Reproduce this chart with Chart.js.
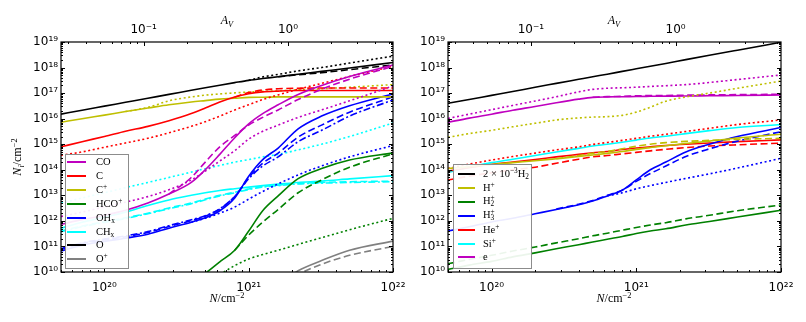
<!DOCTYPE html>
<html>
<head>
<meta charset="utf-8">
<script src="https://cdn.jsdelivr.net/npm/chart.js@4.4.1/dist/chart.umd.min.js"></script>
<style>
  html, body { margin: 0; padding: 0; background: #fff; }
  #fig { position: relative; width: 806px; height: 322px; overflow: hidden; }
  #fig canvas { position: absolute; left: 0; top: 0; }
  .lbl { position: absolute; font-family: "Liberation Serif", "DejaVu Serif", serif; font-size: 12px; line-height: 1; white-space: nowrap; transform: translate(-50%, -50%); color: #000; }
  .lbl sup { font-size: 0.7em; vertical-align: 0.5em; line-height: 0; }
  .lbl sub { font-size: 0.7em; vertical-align: -0.3em; line-height: 0; }
  .leg { position: absolute; background: rgba(255,255,255,0.92); border: 1px solid #8c8c8c; box-sizing: border-box; }
  .ln { position: absolute; height: 0; border-top: 2px solid; }
  .tx { position: absolute; font-family: "Liberation Serif", "DejaVu Serif", serif; font-size: 10.5px; line-height: 1; transform: translateY(-50%); white-space: nowrap; }
  .tx sup { font-size: 0.7em; vertical-align: 0.5em; line-height: 0; }
  .tx sub { font-size: 0.7em; vertical-align: -0.3em; line-height: 0; }
  .st { display: inline-block; font-size: 0.7em; line-height: 0.9; vertical-align: -0.45em; }
  .st span { display: block; }
</style>
</head>
<body>
<div id="fig">
  <canvas id="leftChart" width="806" height="322"></canvas>
  <canvas id="rightChart" width="806" height="322"></canvas>
</div>
<script>
// column density grid (cm^-2)
const N = [5e19, 7e19, 1e20, 1.4e20, 2e20, 2.8e20, 4e20, 5e20, 6.3e20, 8e20, 1e21, 1.25e21, 1.6e21, 2.2e21, 3.2e21, 5e21, 1e22];

const xTicks = [1e20, 1e21, 1e22];
const yTicks = [1e10, 1e11, 1e12, 1e13, 1e14, 1e15, 1e16, 1e17, 1e18, 1e19];
const avTicks = [0.1, 1];
const N_PER_AV = 1.87e21;

// ---------- left panel ----------
const coSolid  = [7.4e11, 1.12e12, 1.66e12, 2.6e12, 5.0e12, 1.12e13, 3.2e13, 1.0e14, 4.0e14, 1.8e15, 6.3e15, 1.58e16, 3.5e16, 8.9e16, 2.0e17, 4.5e17, 1.26e18];
const coDash   = [null, null, null, null, null, 1.12e13, 5.0e13, 2.0e14, 7.9e14, 2.2e15, 5.6e15, 1.12e16, 2.2e16, 5.6e16, 1.41e17, 3.5e17, 1.12e18];
const coDot    = [1.48e12, 2.2e12, 3.5e12, 5.4e12, 8.9e12, 1.66e13, 4.0e13, 8.9e13, 2.2e14, 5.6e14, 1.58e15, 3.2e15, 5.6e15, 1.12e16, 2.2e16, 5.0e16, 1.9e17];

const cSolid   = [7.9e14, 1.26e15, 2.0e15, 3.2e15, 5.0e15, 8.3e15, 1.58e16, 2.6e16, 4.5e16, 7.1e16, 9.5e16, 1.12e17, 1.2e17, 1.26e17, 1.26e17, 1.26e17, 1.26e17];
const cDash    = [null, null, null, null, null, null, null, null, null, 7.1e16, 1.05e17, 1.32e17, 1.48e17, 1.55e17, 1.58e17, 1.58e17, 1.58e17];
const cDot     = [3.7e14, 5.0e14, 7.6e14, 1.12e15, 1.7e15, 2.8e15, 5.0e15, 7.6e15, 1.26e16, 2.2e16, 3.5e16, 5.6e16, 8.5e16, 1.41e17, 2.4e17, 4.5e17, 1.12e18];

const cpSolid  = [7.2e15, 1.0e16, 1.38e16, 1.9e16, 2.6e16, 3.5e16, 4.5e16, 5.1e16, 5.8e16, 6.3e16, 6.8e16, 6.9e16, 7.1e16, 7.1e16, 7.1e16, 7.1e16, 7.1e16];
const cpDot    = [null, null, null, 1.9e16, 2.75e16, 5.0e16, 7.1e16, 8.3e16, 9.3e16, 1.02e17, 1.1e17, 1.17e17, 1.23e17, 1.35e17, 1.48e17, 1.7e17, 2.15e17];

const hcoSolid = [null, null, null, null, null, null, 4.0e9, 8.9e9, 2.5e10, 7.1e10, 4.0e11, 2.5e12, 9.5e12, 4.5e13, 1.12e14, 2.4e14, 4.6e14];
const hcoDash  = [null, null, null, null, null, null, null, null, null, 7.1e10, 2.8e11, 8.9e11, 2.8e12, 1.26e13, 4.0e13, 1.26e14, 4.2e14];
const hcoDot   = [null, null, null, null, null, null, null, null, 7.9e9, 1.78e10, 3.2e10, 4.8e10, 7.1e10, 1.2e11, 2.2e11, 4.5e11, 1.26e12];

const ohSolid  = [6.6e10, 1.12e11, 1.58e11, 2.1e11, 3.0e11, 5.2e11, 8.9e11, 1.32e12, 2.5e12, 7.9e12, 5.6e13, 2.5e14, 7.1e14, 4.0e15, 1.26e16, 3.2e16, 9.3e16];
const ohDash   = [7.6e10, 1.29e11, 1.82e11, 2.4e11, 3.5e11, 6.0e11, 1.02e12, 1.52e12, 2.9e12, 8.9e12, 5.0e13, 1.8e14, 4.5e14, 1.9e15, 5.6e15, 1.8e16, 7.1e16];
const ohDashDot= [8.1e10, 1.38e11, 1.95e11, 2.6e11, 3.8e11, 6.5e11, 1.1e12, 1.6e12, 3.0e12, 9.0e12, 4.5e13, 1.4e14, 3.2e14, 1.26e15, 3.5e15, 1.26e16, 5.4e16];
const ohDot    = [null, null, null, null, null, null, 8.9e11, 1.26e12, 2.0e12, 3.5e12, 7.1e12, 1.41e13, 2.8e13, 6.3e13, 1.41e14, 3.2e14, 8.9e14];

const chSolid  = [5.2e11, 8.9e11, 1.4e12, 2.2e12, 4.0e12, 6.6e12, 1.0e13, 1.26e13, 1.55e13, 1.82e13, 2.1e13, 2.4e13, 2.75e13, 3.2e13, 3.6e13, 4.4e13, 5.9e13];
const chDash   = [4.0e11, 6.3e11, 9.3e11, 1.32e12, 2.0e12, 3.2e12, 5.0e12, 7.1e12, 1.0e13, 1.32e13, 1.78e13, 2.2e13, 2.5e13, 2.9e13, 3.2e13, 3.4e13, 3.6e13];
const chDashDot= [3.8e11, 5.9e11, 8.7e11, 1.24e12, 1.9e12, 3.0e12, 4.7e12, 6.7e12, 9.5e12, 1.26e13, 1.7e13, 2.1e13, 2.4e13, 2.8e13, 3.0e13, 3.2e13, 3.4e13];
const chDot    = [4.9e12, 7.9e12, 1.26e13, 2.0e13, 3.2e13, 5.0e13, 8.1e13, 1.1e14, 1.48e14, 2.0e14, 2.5e14, 3.2e14, 4.0e14, 6.0e14, 1.0e15, 2.0e15, 6.8e15];

const oSolid   = [1.51e16, 2.14e16, 3.09e16, 4.37e16, 6.31e16, 8.91e16, 1.29e17, 1.62e17, 2.04e17, 2.57e17, 3.16e17, 3.72e17, 4.37e17, 5.5e17, 7.08e17, 9.55e17, 1.58e18];
const oDash    = [null, null, null, null, null, null, null, null, null, null, null, null, 4.37e17, 5.2e17, 6.3e17, 8.3e17, 1.26e18];
const oDot     = [null, null, null, null, null, null, null, null, null, null, 3.16e17, 4.3e17, 5.4e17, 7.4e17, 1.0e18, 1.5e18, 2.8e18];

const opSolid  = [null, null, null, null, null, null, null, null, null, null, null, null, 3.2e9, 1.12e10, 2.8e10, 7.1e10, 1.62e11];
const opDash   = [null, null, null, null, null, null, null, null, null, null, null, null, 2.2e9, 7.9e9, 2.0e10, 4.5e10, 1.0e11];

// ---------- right panel ----------
const h2Solid  = [3.98e16, 5.62e16, 8.13e16, 1.15e17, 1.70e17, 2.40e17, 3.47e17, 4.37e17, 5.50e17, 7.08e17, 8.91e17, 1.12e18, 1.45e18, 2.04e18, 3.02e18, 4.79e18, 9.77e18];

const hpSolid  = [1.12e14, 1.32e14, 1.6e14, 1.9e14, 2.25e14, 2.7e14, 3.3e14, 3.8e14, 4.4e14, 5.2e14, 6.3e14, 7.4e14, 8.7e14, 1.07e15, 1.32e15, 1.74e15, 2.45e15];
const hpDash   = [null, null, null, null, null, 2.7e14, 3.6e14, 4.4e14, 5.2e14, 6.6e14, 8.3e14, 1.0e15, 1.15e15, 1.29e15, 1.41e15, 1.55e15, 1.7e15];
const hpDot    = [1.86e15, 2.6e15, 3.5e15, 4.8e15, 6.6e15, 8.9e15, 1.07e16, 1.15e16, 1.2e16, 1.35e16, 1.8e16, 2.8e16, 4.8e16, 7.1e16, 1.0e17, 1.55e17, 2.95e17];

const h2pSolid = [1.26e10, 1.86e10, 2.6e10, 3.9e10, 5.6e10, 8.1e10, 1.17e11, 1.5e11, 1.9e11, 2.45e11, 3.2e11, 4.0e11, 4.9e11, 6.9e11, 9.5e11, 1.41e12, 2.6e12];
const h2pDash  = [2.1e10, 3.1e10, 4.5e10, 6.6e10, 9.5e10, 1.38e11, 2.0e11, 2.6e11, 3.3e11, 4.3e11, 5.5e11, 6.9e11, 8.5e11, 1.2e12, 1.66e12, 2.5e12, 4.2e12];

const h3pSolid = [4.0e11, 5.9e11, 9.1e11, 1.26e12, 1.9e12, 2.8e12, 4.3e12, 6.0e12, 9.5e12, 1.58e13, 4.0e13, 1.0e14, 2.0e14, 5.0e14, 1.0e15, 2.0e15, 4.5e15];
const h3pDash  = [null, null, null, null, null, 2.9e12, 4.5e12, 6.3e12, 1.0e13, 1.6e13, 3.5e13, 7.1e13, 1.4e14, 3.3e14, 6.6e14, 1.32e15, 3.1e15];
const h3pDot   = [null, null, null, null, null, null, null, null, 9.5e12, 1.26e13, 1.8e13, 2.4e13, 3.2e13, 4.6e13, 6.9e13, 1.17e14, 2.8e14];

const hepSolid = [8.9e13, 1.2e14, 1.6e14, 2.0e14, 2.5e14, 3.2e14, 4.0e14, 4.6e14, 5.2e14, 6.2e14, 7.1e14, 7.9e14, 8.9e14, 1.0e15, 1.12e15, 1.26e15, 1.48e15];
const hepDash  = [4.0e13, 5.6e13, 7.6e13, 1.0e14, 1.26e14, 1.8e14, 2.6e14, 3.2e14, 3.6e14, 4.2e14, 4.8e14, 5.5e14, 6.3e14, 7.4e14, 8.5e14, 9.5e14, 1.1e15];
const hepDot   = [1.12e14, 1.66e14, 2.4e14, 3.3e14, 4.5e14, 6.0e14, 7.9e14, 9.8e14, 1.17e15, 1.41e15, 1.7e15, 2.05e15, 2.45e15, 3.15e15, 4.2e15, 5.9e15, 8.9e15];

const sipSolid = [7.9e13, 1.26e14, 1.9e14, 2.6e14, 3.6e14, 5.0e14, 6.9e14, 8.5e14, 1.0e15, 1.2e15, 1.45e15, 1.74e15, 2.05e15, 2.6e15, 3.4e15, 4.5e15, 5.9e15];

const eSolid   = [7.2e15, 1.05e16, 1.5e16, 2.15e16, 3.0e16, 4.2e16, 5.8e16, 6.8e16, 7.1e16, 7.2e16, 7.4e16, 7.5e16, 7.6e16, 7.7e16, 7.9e16, 8.1e16, 8.5e16];
const eDash    = [null, null, null, null, null, null, null, 6.9e16, 7.3e16, 7.5e16, 7.8e16, 8.0e16, 8.1e16, 8.3e16, 8.5e16, 8.7e16, 9.0e16];
const eDot     = [1.02e16, 1.5e16, 2.25e16, 3.3e16, 4.9e16, 7.2e16, 1.12e17, 1.4e17, 1.55e17, 1.62e17, 1.7e17, 1.82e17, 1.95e17, 2.15e17, 2.6e17, 3.4e17, 5.1e17];

// legends
const leftLegend = [
  ['CO', '#bf00bf'], ['C', '#ff0000'], ['C<sup>+</sup>', '#bfbf00'], ['HCO<sup>+</sup>', '#008000'],
  ['OH<sub>x</sub>', '#0000ff'], ['CH<sub>x</sub>', '#00ffff'], ['O', '#000000'], ['O<sup>+</sup>', '#808080']
];
const rightLegend = [
  ['2 × 10<sup>−3</sup>H<sub>2</sub>', '#000000'], ['H<sup>+</sup>', '#bfbf00'],
  ['H<span class="st"><span>+</span><span>2</span></span>', '#008000'],
  ['H<span class="st"><span>+</span><span>3</span></span>', '#0000ff'],
  ['He<sup>+</sup>', '#ff0000'], ['Si<sup>+</sup>', '#00ffff'], ['e', '#bf00bf']
];

const DASH = { solid: [], dash: [7, 3.5], dot: [2, 2.6], dashdot: [7, 2.6, 2, 2.6] };

function line(data, color, style) {
  return {
    data: data,
    borderColor: color,
    borderWidth: 1.6,
    borderDash: DASH[style],
    pointRadius: 0,
    fill: false,
    spanGaps: true,
    cubicInterpolationMode: 'monotone'
  };
}

const SUP = { '-': '⁻', '0': '⁰', '1': '¹', '2': '²', '3': '³', '4': '⁴', '5': '⁵', '6': '⁶', '7': '⁷', '8': '⁸', '9': '⁹' };
function pow10(v) {
  const e = String(Math.round(Math.log10(v)));
  return '10' + e.split('').map(c => SUP[c]).join('');
}

const inwardTicks = {
  id: 'inwardTicks',
  afterDatasetsDraw(chart) {
    const { ctx, chartArea: a, scales } = chart;
    const marks = (scale, cb) => {
      const lo = Math.floor(Math.log10(scale.min));
      const hi = Math.ceil(Math.log10(scale.max));
      for (let e = lo; e <= hi; e++) {
        for (let m = 1; m <= 9; m++) {
          const v = m * Math.pow(10, e);
          if (v < scale.min * 0.9999 || v > scale.max * 1.0001) continue;
          cb(Math.round(scale.getPixelForValue(v)) + 0.5, m === 1 ? 4 : 2);
        }
      }
    };
    ctx.save();
    ctx.strokeStyle = '#000';
    ctx.lineWidth = 1;
    ctx.beginPath();
    marks(scales.x, (p, l) => { ctx.moveTo(p, a.bottom); ctx.lineTo(p, a.bottom - l); });
    marks(scales.av, (p, l) => { ctx.moveTo(p, a.top); ctx.lineTo(p, a.top + l); });
    marks(scales.y, (p, l) => {
      ctx.moveTo(a.left, p); ctx.lineTo(a.left + l, p);
      ctx.moveTo(a.right, p); ctx.lineTo(a.right - l, p);
    });
    ctx.stroke();
    ctx.lineWidth = 1.2;
    ctx.strokeRect(a.left, a.top, a.right - a.left, a.bottom - a.top);
    ctx.restore();
  }
};

const tickFont = { family: 'DejaVu Sans', size: 12 };

function makeChart(id, datasets, padLeft, padRight, yWidth) {
  return new Chart(document.getElementById(id), {
    type: 'line',
    data: { labels: N, datasets: datasets },
    options: {
      responsive: false,
      animation: false,
      events: [],
      layout: { padding: { left: padLeft, right: padRight, top: 0, bottom: 0 } },
      plugins: { legend: { display: false }, tooltip: { enabled: false } },
      scales: {
        x: {
          type: 'logarithmic', position: 'bottom', min: 5e19, max: 1e22,
          grid: { display: false, drawTicks: false }, border: { display: false },
          ticks: { font: tickFont, color: '#000', padding: 9, autoSkip: false, maxRotation: 0, callback: v => pow10(v) },
          afterBuildTicks: s => { s.ticks = xTicks.map(v => ({ value: v })); },
          afterFit: s => { s.height = 50; }
        },
        av: {
          type: 'logarithmic', position: 'top', min: 5e19 / N_PER_AV, max: 1e22 / N_PER_AV,
          grid: { display: false, drawTicks: false }, border: { display: false },
          ticks: { font: tickFont, color: '#000', padding: 5, autoSkip: false, maxRotation: 0, callback: v => pow10(v) },
          afterBuildTicks: s => { s.ticks = avTicks.map(v => ({ value: v })); },
          afterFit: s => { s.height = 42; }
        },
        y: {
          type: 'logarithmic', position: 'left', min: 1e10, max: 1e19,
          grid: { display: false, drawTicks: false }, border: { display: false },
          ticks: { font: tickFont, color: '#000', padding: 3, autoSkip: false, callback: v => pow10(v) },
          afterBuildTicks: s => { s.ticks = yTicks.map(v => ({ value: v })); },
          afterFit: s => { s.width = yWidth; }
        }
      }
    },
    plugins: [inwardTicks]
  });
}

// left: CO, C, C+, HCO+, OHx, CHx, O, O+
makeChart('leftChart', [
  line(coSolid, '#bf00bf', 'solid'), line(coDash, '#bf00bf', 'dash'), line(coDot, '#bf00bf', 'dot'),
  line(cSolid, '#ff0000', 'solid'), line(cDash, '#ff0000', 'dash'), line(cDot, '#ff0000', 'dot'),
  line(cpSolid, '#bfbf00', 'solid'), line(cpDot, '#bfbf00', 'dot'),
  line(hcoSolid, '#008000', 'solid'), line(hcoDash, '#008000', 'dash'), line(hcoDot, '#008000', 'dot'),
  line(ohSolid, '#0000ff', 'solid'), line(ohDash, '#0000ff', 'dash'), line(ohDashDot, '#0000ff', 'dashdot'), line(ohDot, '#0000ff', 'dot'),
  line(chSolid, '#00ffff', 'solid'), line(chDash, '#00ffff', 'dash'), line(chDashDot, '#00ffff', 'dashdot'), line(chDot, '#00ffff', 'dot'),
  line(oSolid, '#000000', 'solid'), line(oDash, '#000000', 'dash'), line(oDot, '#000000', 'dot'),
  line(opSolid, '#808080', 'solid'), line(opDash, '#808080', 'dash')
], 0, 413, 61);

// right: H2, H+, H2+, H3+, He+, Si+, e
makeChart('rightChart', [
  line(h2Solid, '#000000', 'solid'),
  line(hpSolid, '#bfbf00', 'solid'), line(hpDash, '#bfbf00', 'dash'), line(hpDot, '#bfbf00', 'dot'),
  line(h2pSolid, '#008000', 'solid'), line(h2pDash, '#008000', 'dash'),
  line(h3pSolid, '#0000ff', 'solid'), line(h3pDash, '#0000ff', 'dash'), line(h3pDot, '#0000ff', 'dot'),
  line(hepSolid, '#ff0000', 'solid'), line(hepDash, '#ff0000', 'dash'), line(hepDot, '#ff0000', 'dot'),
  line(sipSolid, '#00ffff', 'solid'),
  line(eSolid, '#bf00bf', 'solid'), line(eDash, '#bf00bf', 'dash'), line(eDot, '#bf00bf', 'dot')
], 403, 25, 45);

// ---------- text overlays ----------
const fig = document.getElementById('fig');
function addLabel(html, cx, cy, rotate) {
  const d = document.createElement('div');
  d.className = 'lbl';
  d.innerHTML = html;
  d.style.left = cx + 'px';
  d.style.top = cy + 'px';
  if (rotate) d.style.transform = 'translate(-50%, -50%) rotate(-90deg)';
  fig.appendChild(d);
}
addLabel('<i>A</i><sub><i>V</i></sub>', 227, 20);
addLabel('<i>A</i><sub><i>V</i></sub>', 614, 20);
addLabel('<i>N</i>/cm<sup>−2</sup>', 227, 298);
addLabel('<i>N</i>/cm<sup>−2</sup>', 614, 298);
addLabel('<i>N<sub>i</sub></i>/cm<sup>−2</sup>', 17, 157, true);

function addLegend(items, left, top, width, height, lineX0, lineX1, textX, row0) {
  const box = document.createElement('div');
  box.className = 'leg';
  Object.assign(box.style, { left: left + 'px', top: top + 'px', width: width + 'px', height: height + 'px' });
  items.forEach(([label, color], i) => {
    const y = row0 + i * 13.9;
    const ln = document.createElement('div');
    ln.className = 'ln';
    Object.assign(ln.style, { left: lineX0 + 'px', width: (lineX1 - lineX0) + 'px', top: (y - 1) + 'px', borderTopColor: color });
    const tx = document.createElement('div');
    tx.className = 'tx';
    tx.innerHTML = label;
    Object.assign(tx.style, { left: textX + 'px', top: y + 'px' });
    box.appendChild(ln);
    box.appendChild(tx);
  });
  fig.appendChild(box);
}
addLegend(leftLegend, 65, 154, 64, 115, 1, 20, 30, 7);
addLegend(rightLegend, 453, 164, 79, 105, 4, 21, 29, 9);
</script>
</body>
</html>
